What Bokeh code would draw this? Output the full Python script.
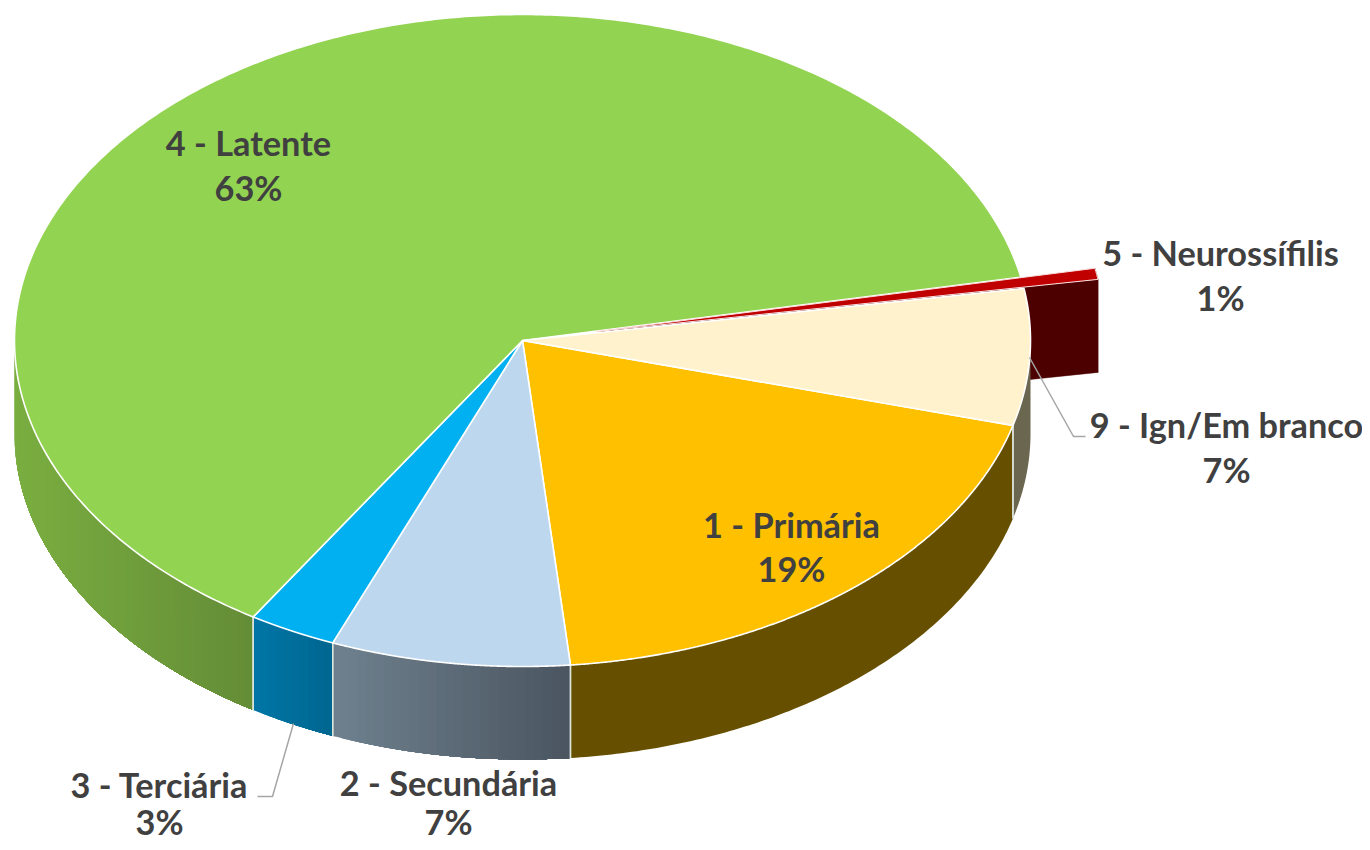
import numpy as np
from bokeh.embed import file_html
from bokeh.resources import INLINE
from bokeh.plotting import figure
from bokeh.core.properties import value

# --- data (clockwise from the start angle, as drawn) ---
categories = ["1 - Primária", "2 - Secundária", "3 - Terciária", "4 - Latente", "5 - Neurossífilis", "9 - Ign/Em branco"]
drawn_share = [19.3, 7.6, 2.8, 63.0, 0.55, 6.75]
shown_percent = ["19%", "7%", "3%", "63%", "1%", "7%"]

# --- styles ---
TOP = ["#FFC000", "#BDD7EE", "#00B0F0", "#92D351", "#C00000", "#FFF2CC"]
SIDE_L = ["#665000", "#6F818F", "#0076A6", "#7AAE40", "#4D0000", "#6B6650"]
SIDE_R = ["#665000", "#4A5560", "#006690", "#648C37", "#4D0000", "#6B6650"]
TXT = "#404040"
LEAD = "#A6A6A6"

# --- layout (pie geometry in page pixels) ---
CX, CY, RX, RY, DEPTH = 522.0, 340.0, 508.0, 326.0, 93.0
START_DEG = -15.1
EXPLODE_IDX = 4
EXPLODE = (74.0, -9.0)
LABEL_POS = [(791, 524, 568), (448, 782, 821), (159, 784, 821), (248, 142, 187), (1220, 252, 297), (1226, 424, 469)]
LEADERS = [([1029, 1073, 1085], [357, 436, 436]), ([293, 272, 257], [723, 796, 796])]

W, H = 1362, 842
p = figure(width=W, height=H, x_range=(0, W), y_range=(H, 0),
           toolbar_location=None, output_backend="svg", min_border=0,
           outline_line_color=None, background_fill_color="white",
           styles={"margin-bottom": "-8px"})
p.axis.visible = False
p.grid.visible = False

def ell(deg, dx=0.0, dy=0.0):
    a = np.radians(deg)
    return CX + dx + RX * np.cos(a), CY + dy - RY * np.sin(a)

def mix(c1, c2, t):
    a = [int(c1[i:i + 2], 16) for i in (1, 3, 5)]
    b = [int(c2[i:i + 2], 16) for i in (1, 3, 5)]
    return "#%02x%02x%02x" % tuple(int(round(x + (y - x) * t)) for x, y in zip(a, b))

span = np.array(drawn_share) / sum(drawn_share) * 360.0
ends = START_DEG - np.cumsum(span)
starts = ends + span

# exploded slice: its inner wall and outer wall, behind the main pie
i = EXPLODE_IDX
ex, ey = EXPLODE
ax, ay = ell(ends[i], ex, ey)
ang = np.linspace(ends[i], starts[i], 8)
ox, oy = ell(ang, ex, ey)
p.patch([CX + ex, ax, ax, CX + ex], [CY + ey, ay, ay + DEPTH, CY + ey + DEPTH],
        fill_color=SIDE_L[i], line_color=SIDE_L[i], line_width=0.5)
p.patch(list(ox) + list(ox[::-1]), list(oy) + list(oy[::-1] + DEPTH),
        fill_color=SIDE_L[i], line_color=SIDE_L[i], line_width=0.5)

# walls: painted left to right, each step covering all that lies to its right,
# so that a slice shades across without seams
seps = []
for k in range(len(categories)):
    if k == EXPLODE_IDX:
        continue
    lo, hi = ends[k], starts[k]
    for shift in (-720, -360, 0, 360):
        a0, a1 = max(lo + shift, -180.0), min(hi + shift, 0.0)
        if a1 <= a0:
            continue
        flat = SIDE_L[k] == SIDE_R[k]
        n = 1 if flat else max(2, int(a1 - a0))
        grid = np.linspace(a0, a1, n + 1)
        gx, _ = ell(grid)
        x0, x1 = gx.min(), gx.max()
        for g0, gm in zip(grid[:-1], (grid[:-1] + grid[1:]) / 2):
            arc = np.linspace(g0, a1, 120)
            ax_, ay_ = ell(arc)
            mx, _ = ell(gm)
            c = mix(SIDE_L[k], SIDE_R[k], (mx - x0) / max(x1 - x0, 1.0))
            p.patch(list(ax_) + list(ax_[::-1]), list(ay_) + list(ay_[::-1] + DEPTH),
                    fill_color=c, line_color=None)
        for edge in (a0, a1):
            if -180 < edge < 0:
                sx, sy = ell(edge)
                seps.append(([sx, sx], [sy, sy + DEPTH]))
for sx, sy in seps:
    p.line(sx, sy, line_color="#DDE6DD", line_width=1.4)

# top faces
for k in range(len(categories)):
    if k == EXPLODE_IDX:
        continue
    ang = np.linspace(starts[k], ends[k], 400)
    ex_, ey_ = ell(ang)
    p.patch([CX] + list(ex_), [CY] + list(ey_), fill_color=TOP[k],
            line_color="#FFFFFF", line_width=1.6, line_join="round")

# exploded top face
ang = np.linspace(starts[i], ends[i], 8)
tx, ty = ell(ang, ex, ey)
p.patch([CX + ex] + list(tx), [CY + ey] + list(ty), fill_color=TOP[i],
        line_color="#FBE0E0", line_width=1.0, line_join="round")

# leader lines
for lx, ly in LEADERS:
    p.line(lx, ly, line_color=LEAD, line_width=1.5)

# labels
for name, pct, (lx, y1, y2) in zip(categories, shown_percent, LABEL_POS):
    p.text([lx, lx], [y1, y2], text=[name, pct], text_font=value("Lato"), text_font_style="bold",
           text_font_size="34.3px", text_color=TXT, text_align="center", text_baseline="middle")

open("out.html", "w").write(file_html(p, INLINE))
